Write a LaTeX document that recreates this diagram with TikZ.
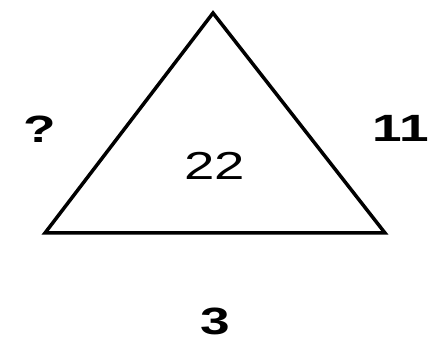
\documentclass[tikz,border=0pt]{standalone}
\usepackage{fontspec}
\setmainfont{Liberation Sans}
\begin{document}
\begin{tikzpicture}[x=1pt,y=-1pt,
  lbl/.style={inner sep=0pt, font=\fontsize{38}{40}\selectfont\bfseries, xscale=1.4, transform shape},
  inlbl/.style={inner sep=0pt, font=\fontsize{39}{40}\selectfont, xscale=1.4, transform shape}]
\useasboundingbox (0,0) rectangle (428,352);
\coordinate (top) at (213,13);
\coordinate (bl) at (45,233);
\coordinate (br) at (385,233);
\draw[line width=3.5pt, line join=miter] (top) -- (br) -- (bl) -- cycle;
\node[lbl] (q) at (40,129) {?};
\node[lbl] (r) at (401,128) {11};
\node[inlbl] (c) at (215,166) {22};
\node[lbl] (b) at (215,321) {3};
\end{tikzpicture}
\end{document}
